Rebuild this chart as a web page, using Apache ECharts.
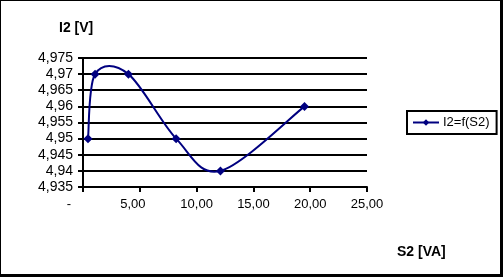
<!DOCTYPE html>
<html>
<head>
<meta charset="utf-8">
<script src="https://cdn.jsdelivr.net/npm/echarts@6/dist/echarts.min.js"></script>
<style>
  html, body { margin: 0; padding: 0; background: #fff; }
  #frame {
    position: absolute; left: 0; top: 0;
    width: 499px; height: 273px;
    border-style: solid; border-color: #000;
    border-width: 1px 3px 3px 1px;
  }
  #chart { width: 499px; height: 273px; }
</style>
</head>
<body>
<div id="frame"><div id="chart"></div></div>
<script>
// S2 [VA] and I2 [V] values
const s2 = [0.44, 1.06, 4.0, 8.2, 12.1, 19.5];
const i2 = [4.95, 4.97, 4.97, 4.95, 4.94, 4.96];
const seriesName = 'I2=f(S2)';
const navy = '#000080';

let chart = echarts.init(document.getElementById('chart'));

function fmtY(v) {
  // comma decimals, trailing zeros dropped like Excel "General"
  let s = String(Math.round(v * 1000) / 1000);
  return s.replace('.', ',');
}

function fmtX(v) {
  if (Math.abs(v) < 1e-9) return '{z|-}';
  if (v === 5) return '{f|5,00}';
  return v.toFixed(2).replace('.', ',');
}

// Excel style smoothed segment between point i-1 and i (catmull-rom in pixel space)
function renderCurve(params, api) {
  let i = params.dataIndex;
  if (i === 0) return null;
  let n = s2.length;
  let p = [i - 2, i - 1, i, i + 1].map(j => {
    j = Math.max(0, Math.min(n - 1, j));
    return api.coord([s2[j], i2[j]]);
  });
  return {
    type: 'bezierCurve',
    shape: {
      x1: p[1][0], y1: p[1][1],
      x2: p[2][0], y2: p[2][1],
      cpx1: p[1][0] + (p[2][0] - p[0][0]) / 6,
      cpy1: p[1][1] + (p[2][1] - p[0][1]) / 6,
      cpx2: p[2][0] - (p[3][0] - p[1][0]) / 6,
      cpy2: p[2][1] - (p[3][1] - p[1][1]) / 6
    },
    style: { stroke: navy, lineWidth: 2, fill: null }
  };
}

let points = s2.map((x, i) => [x, i2[i]]);

let option = {
  animation: false,
  textStyle: { fontFamily: 'Liberation Sans, Arial, sans-serif' },
  grid: { left: 82, right: 133, top: 57, bottom: 87 },
  title: [
    {
      text: 'I2 [V]', left: 53, top: 15,
      textStyle: { fontSize: 14, fontWeight: 'bold', color: '#000' }
    },
    {
      text: 'S2 [VA]', left: 391, top: 239,
      textStyle: { fontSize: 14, fontWeight: 'bold', color: '#000' }
    }
  ],
  legend: {
    left: 406, top: 110,
    orient: 'vertical',
    borderColor: '#000', borderWidth: 2,
    padding: [5, 7, 5, 5],
    itemWidth: 26, itemHeight: 8, itemGap: 0,
    textStyle: { fontSize: 13, color: '#000', padding: [0, 0, 0, -1] },
    data: [{
      name: seriesName,
      lineStyle: { color: navy, width: 2, opacity: 1 }
    }]
  },
  xAxis: {
    type: 'value',
    min: 0, max: 25, interval: 5,
    axisLine: { show: true, onZero: false, lineStyle: { color: '#000', width: 2 } },
    axisTick: { show: true, length: 5, lineStyle: { color: '#000', width: 2 } },
    splitLine: { show: false },
    axisLabel: {
      margin: 11, fontSize: 13, color: '#000',
      formatter: fmtX,
      rich: {
        z: { fontSize: 13, color: '#000', padding: [0, 28, 0, 0] },
        f: { fontSize: 13, color: '#000', padding: [0, 14, 0, 0] }
      }
    }
  },
  yAxis: {
    type: 'value',
    min: 4.935, max: 4.975, interval: 0.005,
    axisLine: { show: true, lineStyle: { color: '#000', width: 2 } },
    axisTick: { show: true, length: 5, lineStyle: { color: '#000', width: 2 } },
    splitLine: { show: true, lineStyle: { color: '#000', width: 2 } },
    axisLabel: { margin: 10, fontSize: 14, color: '#000', formatter: fmtY }
  },
  series: [
    {
      name: 'curve',
      type: 'custom',
      renderItem: renderCurve,
      encode: { x: 0, y: 1 },
      z: 2,
      silent: true,
      data: points
    },
    {
      name: seriesName,
      type: 'line',
      symbol: 'diamond',
      symbolSize: 9,
      z: 3,
      itemStyle: { color: navy },
      lineStyle: { color: navy, width: 2, opacity: 0 },
      data: points
    }
  ]
};
chart.setOption(option);
</script>
</body>
</html>
